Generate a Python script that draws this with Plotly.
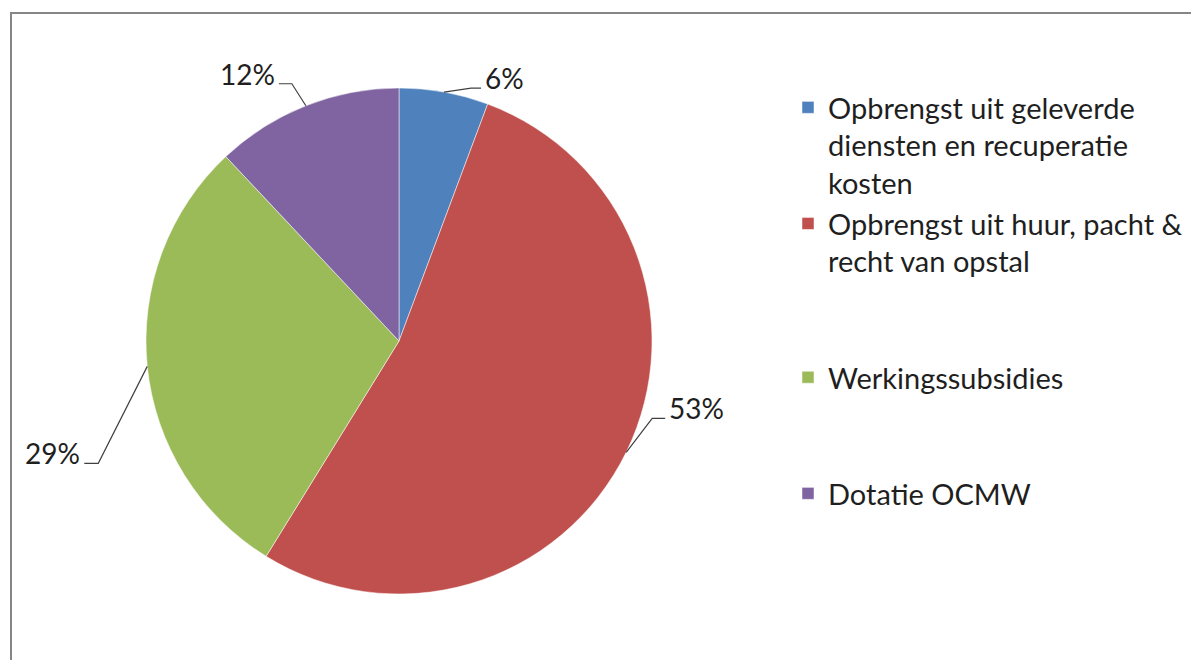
import math
import plotly.graph_objects as go

# ---- data ----
categories = [
    "Opbrengst uit geleverde diensten en recuperatie kosten",
    "Opbrengst uit huur, pacht & recht van opstal",
    "Werkingssubsidies",
    "Dotatie OCMW",
]
legend_labels = [
    "Opbrengst uit geleverde<br>diensten en recuperatie<br>kosten",
    "Opbrengst uit huur, pacht &<br>recht van opstal<br> <br> ",
    "Werkingssubsidies<br> <br> ",
    "Dotatie OCMW",
]
values = [5.7, 53.1, 29.2, 12.0]
colors = ["#4F81BD", "#C0504D", "#9BBB59", "#8064A2"]

# ---- layout geometry (pixels in the page) ----
W, H = 1199, 660
OFF = 8  # page body margin
CX, CY, R = 399, 341, 253
FONT = "Lato"
TXT = "#1f1f1f"

def px(x):
    return (x - OFF) / W

def py(y):
    return 1 - (y - OFF) / H

fig = go.Figure()
fig.add_trace(go.Pie(
    labels=legend_labels,
    values=values,
    sort=False,
    direction="clockwise",
    rotation=0,
    marker=dict(colors=colors, line=dict(color="white", width=0.5)),
    textinfo="none",
    hoverinfo="label+percent",
    domain=dict(x=[px(CX - R), px(CX + R)], y=[py(CY + R), py(CY - R)]),
))

# leader-line styles per slice: elbow offset (dx, dy) and horizontal tail length
leader_style = [(27, -4, 10), (26, -34, 13), (-49, 97, -14), (-14, -22, -13)]

total = sum(values)
shapes = []
annotations = []
cum = 0.0
for v, (ex, ey, hl) in zip(values, leader_style):
    mid = (cum + v / 2) / total * 2 * math.pi
    cum += v
    sx = CX + R * math.sin(mid)
    sy = CY - R * math.cos(mid)
    bx, by = sx + ex, sy + ey
    tx = bx + hl
    shapes.append(dict(
        type="path", xref="paper", yref="paper",
        path=f"M {px(sx)} {py(sy)} L {px(bx)} {py(by)} L {px(tx)} {py(by)}",
        line=dict(color="#404040", width=1.2),
    ))
    pct = round(v / total * 100)
    annotations.append(dict(
        x=px(tx + (2 if hl > 0 else -2)), y=py(by - 10),
        xref="paper", yref="paper",
        text=f"{pct}%", showarrow=False,
        xanchor="left" if hl > 0 else "right", yanchor="middle",
        font=dict(family=FONT, size=28, color=TXT),
    ))

# outer chart frame
shapes.append(dict(
    type="rect", xref="paper", yref="paper",
    x0=px(11), y0=-0.05, x1=1.05, y1=py(13),
    line=dict(color="#868686", width=2), fillcolor="rgba(0,0,0,0)",
    layer="below",
))

fig.update_layout(
    width=W, height=H,
    margin=dict(l=0, r=0, t=0, b=0),
    paper_bgcolor="white",
    plot_bgcolor="white",
    shapes=shapes,
    annotations=annotations,
    showlegend=True,
    legend=dict(
        x=px(788), y=py(82), xanchor="left", yanchor="top",
        font=dict(family=FONT, size=29, color=TXT),
        valign="top",
        bgcolor="rgba(0,0,0,0)",
    ),
)

fig.write_html("out.html")
